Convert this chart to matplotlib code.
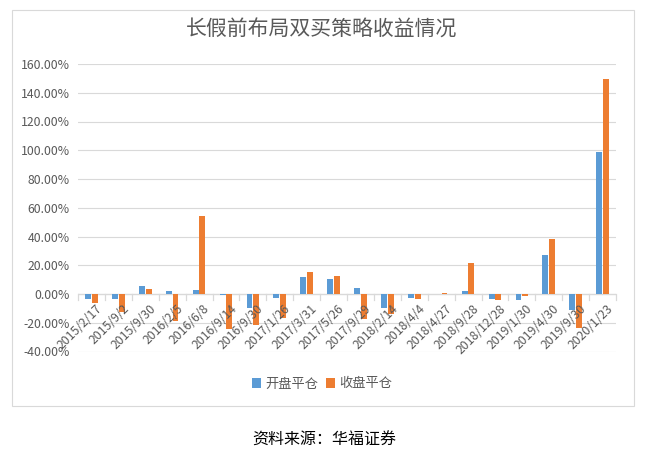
import matplotlib
matplotlib.use("Agg")
import matplotlib.pyplot as plt
import numpy as np
from matplotlib.patches import Rectangle
from matplotlib.ticker import FuncFormatter, MultipleLocator

plt.rcParams['font.family'] = ['Noto Sans CJK SC', 'DejaVu Sans']

categories = ["2015/2/17", "2015/9/2", "2015/9/30", "2016/2/5", "2016/6/8",
              "2016/9/14", "2016/9/30", "2017/1/26", "2017/3/31", "2017/5/26",
              "2017/9/29", "2018/2/14", "2018/4/4", "2018/4/27", "2018/9/28",
              "2018/12/28", "2019/1/30", "2019/4/30", "2019/9/30", "2020/1/23"]
open_close = [-3.7, -3.5, 5.6, 2.1, 2.8, -0.5, -10.0, -3.0, 11.6, 10.5,
              4.2, -10.0, -2.8, 0.0, 2.1, -3.7, -4.4, 27.2, -11.4, 98.8]
close_close = [-6.3, -12.5, 3.5, -18.8, 54.0, -24.4, -21.9, -17.0, 15.3, 12.6,
               -17.7, -14.2, -3.7, 0.7, 21.6, -4.4, -1.4, 38.0, -23.7, 149.5]
series_names = ["开盘平仓", "收盘平仓"]
title = "长假前布局双买策略收益情况"
source = "资料来源：华福证券"

W, H = 652, 455
fig = plt.figure(figsize=(W/100, H/100), dpi=100)
fig.patch.set_facecolor("white")

# chart border
fig.patches.append(Rectangle((12/W, 1-406/H), (634-12)/W, (406-10)/H,
                             transform=fig.transFigure, fill=False,
                             edgecolor="#d9d9d9", linewidth=0.8))

ax = fig.add_axes([78/W, 1-351.5/H, (616-78)/W, (351.5-64)/H])
x = np.arange(len(categories))
bw = 0.22
ax.bar(x - 0.125, open_close, width=bw, color="#5B9BD5", label=series_names[0], zorder=3)
ax.bar(x + 0.125, close_close, width=bw, color="#ED7D31", label=series_names[1], zorder=3)

ax.set_ylim(-40, 160)
ax.set_xlim(-0.5, len(categories) - 0.5)
ax.yaxis.set_major_locator(MultipleLocator(20))
ax.yaxis.set_major_formatter(FuncFormatter(lambda v, p: f"{v:.2f}%"))
ax.grid(axis="y", color="#d9d9d9", linewidth=0.8, zorder=0)
for s in ax.spines.values():
    s.set_visible(False)
ax.tick_params(axis="y", length=0, labelsize=8.8, labelcolor="#595959", pad=6)
ax.set_xticks([])
ax.axhline(0, color="#d9d9d9", linewidth=0.9, zorder=2)
# category boundary tick marks
for b in np.arange(-0.5, len(categories), 1.0):
    ax.plot([b, b], [0, -4.2], color="#d9d9d9", linewidth=0.9, clip_on=False, zorder=2)
# rotated category labels
for i, c in enumerate(categories):
    ax.annotate(c, xy=(i + 0.15, 0), xycoords="data", xytext=(0, -6),
                textcoords="offset points", rotation=45, ha="right", va="top",
                rotation_mode="anchor", fontsize=8.8, color="#595959", zorder=4)

fig.text(322/W, 1-30/H, title, ha="center", va="center", fontsize=15, color="#595959")

leg = fig.legend(loc="center", bbox_to_anchor=(322/W, 1-384/H), ncol=2, frameon=False,
                 fontsize=9.5, handlelength=0.7, handleheight=0.7, handletextpad=0.3,
                 columnspacing=0.6)
for t in leg.get_texts():
    t.set_color("#595959")

fig.text(324/W, 1-440/H, source, ha="center", va="center", fontsize=11.5,
         color="black")

fig.savefig("out.png", dpi=100)
